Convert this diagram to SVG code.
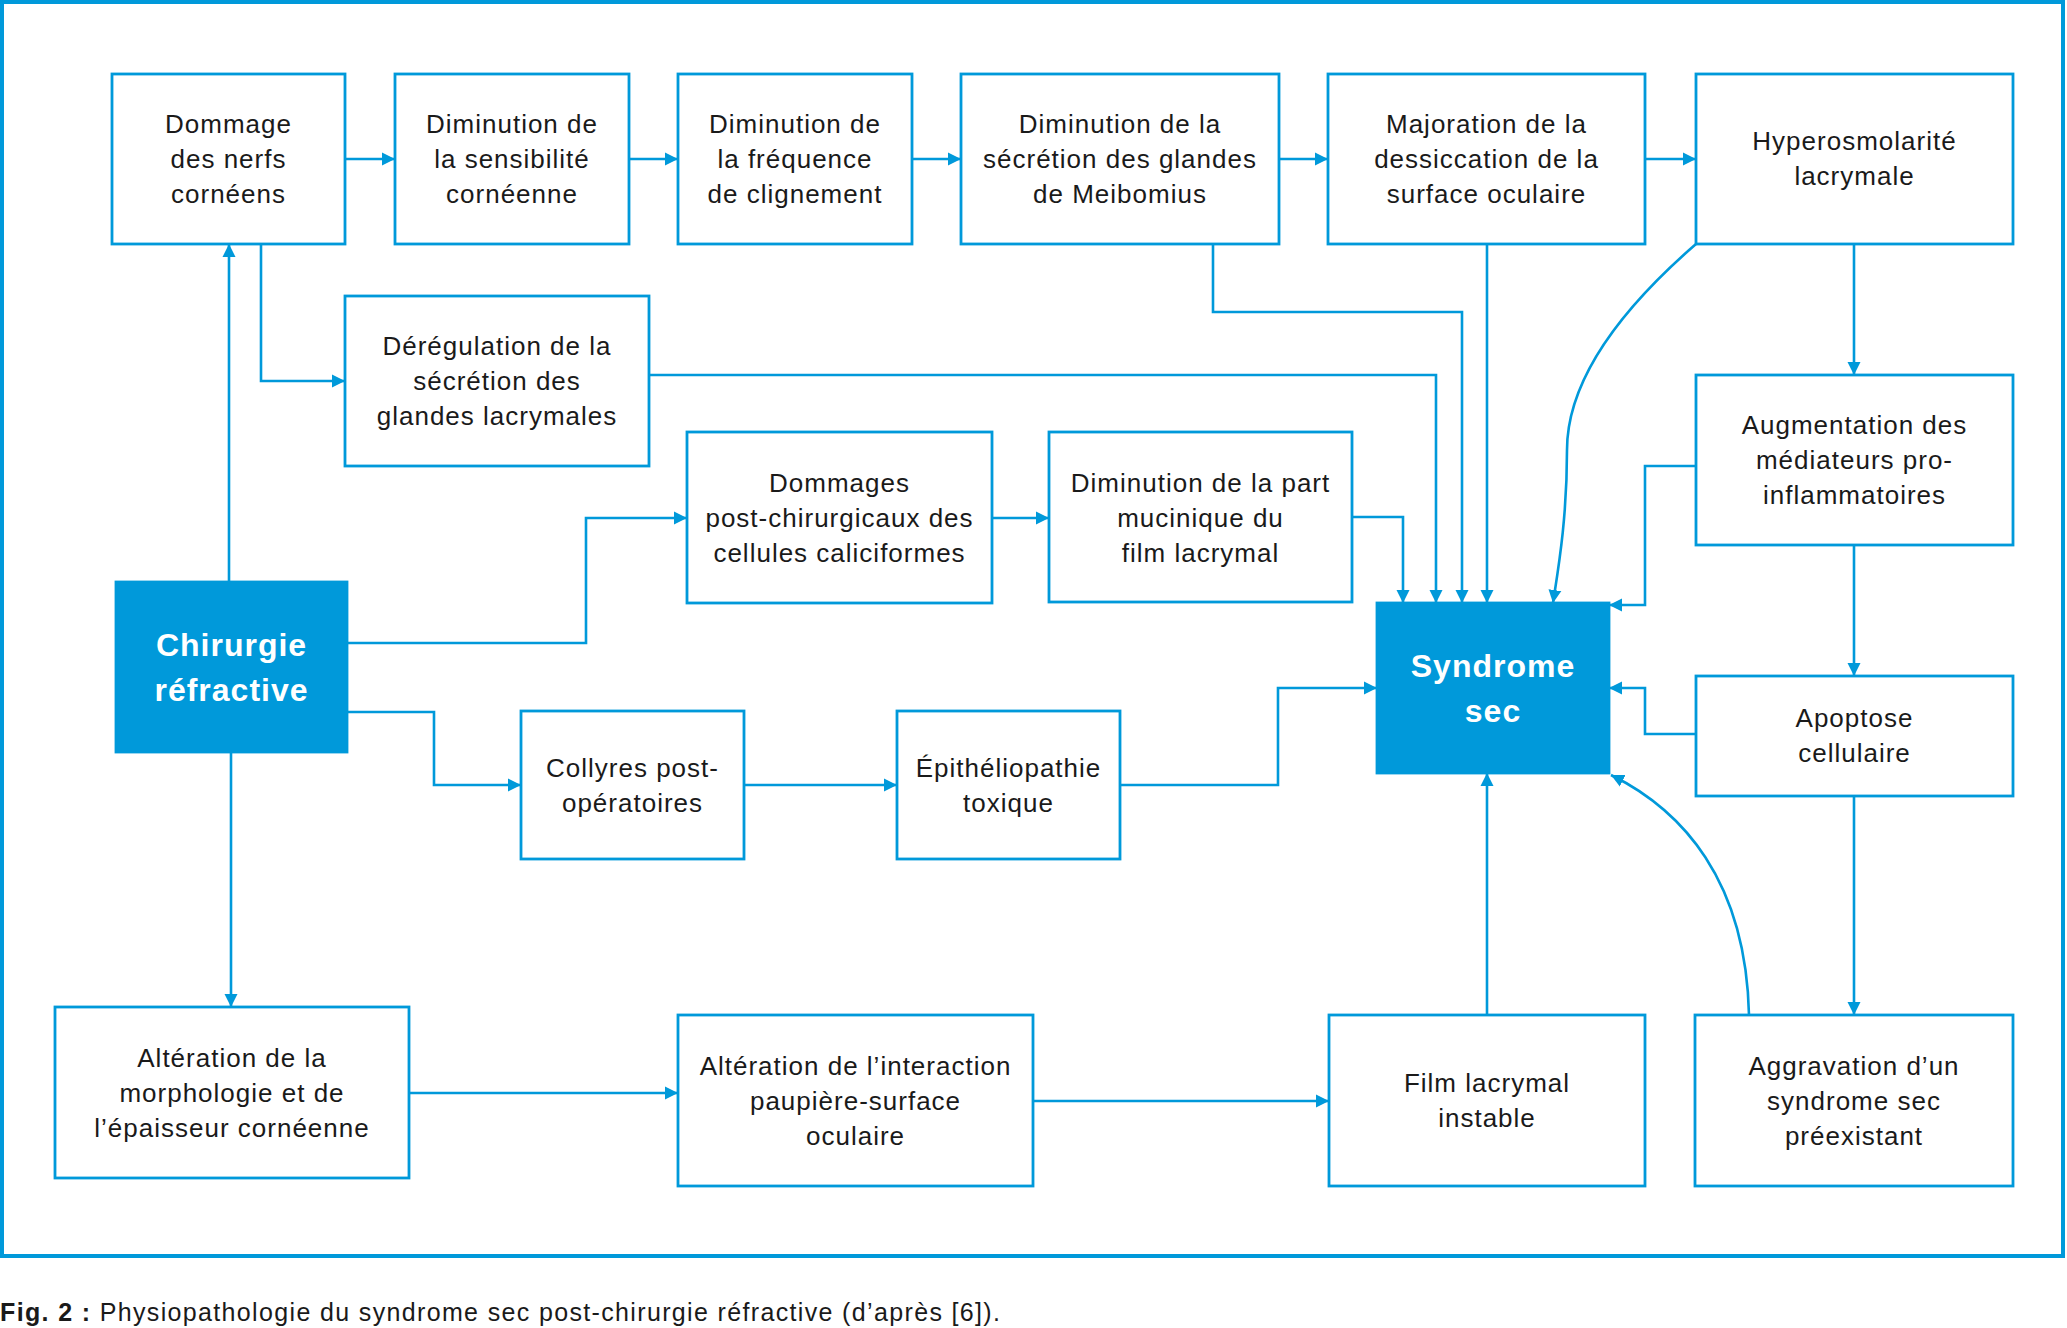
<svg xmlns="http://www.w3.org/2000/svg" width="2067" height="1328" viewBox="0 0 2067 1328">
<defs>
<style>
.box{fill:#fff;stroke:#0099da;stroke-width:2.8}
.hub{fill:#0099da;stroke:#0099da;stroke-width:2.8}
.t{font-family:"Liberation Sans",Arial,sans-serif;font-size:26px;fill:#1a1a1a;text-anchor:middle;letter-spacing:1px}
.th{font-family:"Liberation Sans",Arial,sans-serif;font-size:32px;font-weight:bold;fill:#fff;text-anchor:middle;letter-spacing:1px}
.c{fill:none;stroke:#0099da;stroke-width:2.6;marker-end:url(#ah)}
.cap{font-family:"Liberation Sans",Arial,sans-serif;font-size:25px;fill:#1a1a1a}
</style>
<marker id="ah" markerUnits="userSpaceOnUse" markerWidth="14" markerHeight="14" refX="13" refY="6.5" orient="auto" viewBox="0 0 14 13">
<path d="M0,0 L13,6.5 L0,13 z" fill="#0099da"/>
</marker>
</defs>
<rect x="0" y="0" width="2067" height="1328" fill="#fff"/>
<rect x="2" y="2" width="2061" height="1254" fill="none" stroke="#0099da" stroke-width="4"/>

<g id="connectors">
<path class="c" d="M345,159 H395"/>
<path class="c" d="M629,159 H678"/>
<path class="c" d="M912,159 H961"/>
<path class="c" d="M1279,159 H1328"/>
<path class="c" d="M1645,159 H1696"/>
<path class="c" d="M229,582 V244"/>
<path class="c" d="M261,244 V381 H345"/>
<path class="c" d="M649,375 H1436 V603"/>
<path class="c" d="M1213,244 V312 H1462 V603"/>
<path class="c" d="M1487,244 V603"/>
<path class="c" d="M1696,244 C1620,310 1567,380 1567,450 C1567,520 1558,570 1553,603"/>
<path class="c" d="M1854,244 V375"/>
<path class="c" d="M1696,466 H1645 V605 H1609"/>
<path class="c" d="M1854,545 V676"/>
<path class="c" d="M1696,734 H1645 V688 H1609"/>
<path class="c" d="M1854,796 V1015"/>
<path class="c" d="M1749,1015 C1746,880 1682,810 1611,775"/>
<path class="c" d="M1487,1015 V773"/>
<path class="c" d="M1033,1101 H1329"/>
<path class="c" d="M409,1093 H678"/>
<path class="c" d="M231,752 V1007"/>
<path class="c" d="M347,643 H586 V518 H687"/>
<path class="c" d="M992,518 H1049"/>
<path class="c" d="M1352,517 H1403 V603"/>
<path class="c" d="M347,712 H434 V785 H521"/>
<path class="c" d="M744,785 H897"/>
<path class="c" d="M1120,785 H1278 V688 H1377"/>
</g>

<g id="n1"><rect class="box" x="112" y="74" width="233" height="170"/>
<text class="t"><tspan x="228.5" y="133">Dommage</tspan><tspan x="228.5" y="168">des nerfs</tspan><tspan x="228.5" y="203">cornéens</tspan></text></g>
<g id="n2"><rect class="box" x="395" y="74" width="234" height="170"/>
<text class="t"><tspan x="512" y="133">Diminution de</tspan><tspan x="512" y="168">la sensibilité</tspan><tspan x="512" y="203">cornéenne</tspan></text></g>
<g id="n3"><rect class="box" x="678" y="74" width="234" height="170"/>
<text class="t"><tspan x="795" y="133">Diminution de</tspan><tspan x="795" y="168">la fréquence</tspan><tspan x="795" y="203">de clignement</tspan></text></g>
<g id="n4"><rect class="box" x="961" y="74" width="318" height="170"/>
<text class="t"><tspan x="1120" y="133">Diminution de la</tspan><tspan x="1120" y="168">sécrétion des glandes</tspan><tspan x="1120" y="203">de Meibomius</tspan></text></g>
<g id="n5"><rect class="box" x="1328" y="74" width="317" height="170"/>
<text class="t"><tspan x="1486.5" y="133">Majoration de la</tspan><tspan x="1486.5" y="168">dessiccation de la</tspan><tspan x="1486.5" y="203">surface oculaire</tspan></text></g>
<g id="n6"><rect class="box" x="1696" y="74" width="317" height="170"/>
<text class="t"><tspan x="1854.5" y="150">Hyperosmolarité</tspan><tspan x="1854.5" y="185">lacrymale</tspan></text></g>
<g id="n7"><rect class="box" x="345" y="296" width="304" height="170"/>
<text class="t"><tspan x="497" y="355">Dérégulation de la</tspan><tspan x="497" y="390">sécrétion des</tspan><tspan x="497" y="425">glandes lacrymales</tspan></text></g>
<g id="n8"><rect class="box" x="687" y="432" width="305" height="171"/>
<text class="t"><tspan x="839.5" y="492">Dommages</tspan><tspan x="839.5" y="527">post-chirurgicaux des</tspan><tspan x="839.5" y="562">cellules caliciformes</tspan></text></g>
<g id="n9"><rect class="box" x="1049" y="432" width="303" height="170"/>
<text class="t"><tspan x="1200.5" y="492">Diminution de la part</tspan><tspan x="1200.5" y="527">mucinique du</tspan><tspan x="1200.5" y="562">film lacrymal</tspan></text></g>
<g id="n10"><rect class="box" x="1696" y="375" width="317" height="170"/>
<text class="t"><tspan x="1854.5" y="434">Augmentation des</tspan><tspan x="1854.5" y="469">médiateurs pro-</tspan><tspan x="1854.5" y="504">inflammatoires</tspan></text></g>
<g id="chirurgie"><rect class="hub" x="116" y="582" width="231" height="170"/>
<text class="th"><tspan x="231.5" y="656">Chirurgie</tspan><tspan x="231.5" y="701">réfractive</tspan></text></g>
<g id="syndrome"><rect class="hub" x="1377" y="603" width="232" height="170"/>
<text class="th"><tspan x="1493" y="677">Syndrome</tspan><tspan x="1493" y="722">sec</tspan></text></g>
<g id="collyres"><rect class="box" x="521" y="711" width="223" height="148"/>
<text class="t"><tspan x="632.5" y="777">Collyres post-</tspan><tspan x="632.5" y="812">opératoires</tspan></text></g>
<g id="epith"><rect class="box" x="897" y="711" width="223" height="148"/>
<text class="t"><tspan x="1008.5" y="777">Épithéliopathie</tspan><tspan x="1008.5" y="812">toxique</tspan></text></g>
<g id="apoptose"><rect class="box" x="1696" y="676" width="317" height="120"/>
<text class="t"><tspan x="1854.5" y="727">Apoptose</tspan><tspan x="1854.5" y="762">cellulaire</tspan></text></g>
<g id="altmorph"><rect class="box" x="55" y="1007" width="354" height="171"/>
<text class="t"><tspan x="232" y="1067">Altération de la</tspan><tspan x="232" y="1102">morphologie et de</tspan><tspan x="232" y="1137">l’épaisseur cornéenne</tspan></text></g>
<g id="altint"><rect class="box" x="678" y="1015" width="355" height="171"/>
<text class="t"><tspan x="855.5" y="1075">Altération de l’interaction</tspan><tspan x="855.5" y="1110">paupière-surface</tspan><tspan x="855.5" y="1145">oculaire</tspan></text></g>
<g id="film"><rect class="box" x="1329" y="1015" width="316" height="171"/>
<text class="t"><tspan x="1487" y="1092">Film lacrymal</tspan><tspan x="1487" y="1127">instable</tspan></text></g>
<g id="aggravation"><rect class="box" x="1695" y="1015" width="318" height="171"/>
<text class="t"><tspan x="1854" y="1075">Aggravation d’un</tspan><tspan x="1854" y="1110">syndrome sec</tspan><tspan x="1854" y="1145">préexistant</tspan></text></g>

<text class="cap" x="0" y="1321" textLength="1000" lengthAdjust="spacing"><tspan font-weight="bold">Fig. 2 :</tspan> Physiopathologie du syndrome sec post-chirurgie réfractive (d’après [6]).</text>
</svg>
